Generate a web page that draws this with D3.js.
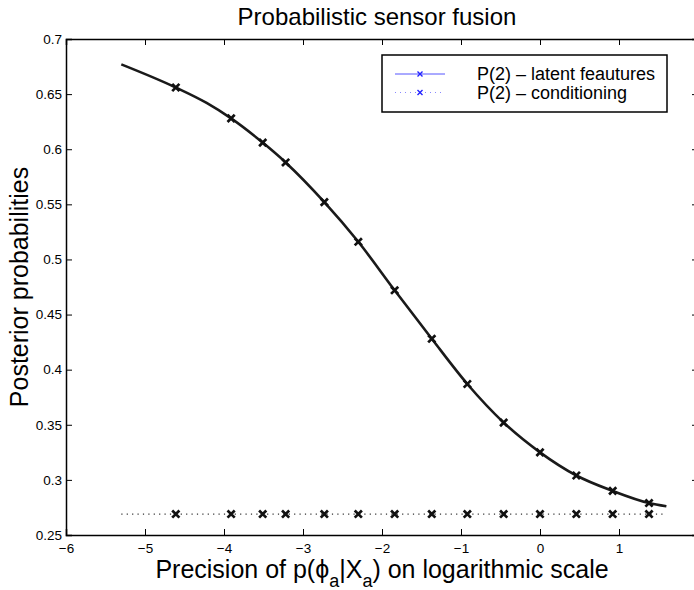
<!DOCTYPE html>
<html>
<head>
<meta charset="utf-8">
<script src="https://cdnjs.cloudflare.com/ajax/libs/d3/7.8.5/d3.min.js"></script>
<style>
  body { margin: 0; background: #fff; }
  svg { display: block; font-family: "Liberation Sans", Arial, Helvetica, sans-serif; }
</style>
</head>
<body>
<div id="chart"></div>
<script>
// x positions of the markers (log precision)
var markerX = [-4.61, -3.91, -3.51, -3.22, -2.73, -2.30, -1.84, -1.37, -0.92, -0.46, 0, 0.46, 0.92, 1.38];
// P(2) latent features at the markers
var latentY = [0.656, 0.628, 0.606, 0.588, 0.552, 0.516, 0.472, 0.428, 0.387, 0.352, 0.325, 0.304, 0.290, 0.279];
// P(2) conditioning at the markers
var condY = [0.269, 0.269, 0.269, 0.269, 0.269, 0.269, 0.269, 0.269, 0.269, 0.269, 0.269, 0.269, 0.269, 0.269];
// full solid curve (ends + markers + one bend point)
var curveX = [-5.30, -4.61, -4.22, -3.91, -3.51, -3.22, -2.73, -2.30, -1.84, -1.37, -0.92, -0.46, 0, 0.46, 0.92, 1.38, 1.60];
var curveY = [0.677, 0.656, 0.642, 0.628, 0.606, 0.588, 0.552, 0.516, 0.472, 0.428, 0.387, 0.352, 0.325, 0.304, 0.290, 0.279, 0.276];
// dotted conditioning line ends
var condLineX = [-5.30, 1.60];
var condLineY = [0.269, 0.269];

var xTicks = [-6, -5, -4, -3, -2, -1, 0, 1, 2];
var yTicks = [0.25, 0.3, 0.35, 0.4, 0.45, 0.5, 0.55, 0.6, 0.65, 0.7];
var legendLabels = ["P(2) \u2013 latent feautures", "P(2) \u2013 conditioning"];

function init() {
    var w = 694, h = 590;
    var mLeft = 66, mRight = 698, mTop = 39, mBottom = 535;

    var svg = d3.select("#chart").append("svg")
        .attr("width", w)
        .attr("height", h);

    var x = d3.scaleLinear().domain([-6, 2]).range([mLeft, mRight]);
    var y = d3.scaleLinear().domain([0.25, 0.7]).range([mBottom, mTop]);

    // axes, ticks inward like matlab
    function fmt(d) { return String(d).replace("-", "\u2212"); }

    svg.append("g")
        .attr("transform", "translate(0," + mBottom + ")")
        .call(d3.axisBottom(x).tickValues(xTicks).tickSize(-6).tickPadding(8).tickFormat(fmt));
    svg.append("g")
        .attr("transform", "translate(0," + mTop + ")")
        .call(d3.axisTop(x).tickValues(xTicks).tickSize(-6).tickFormat(""));
    svg.append("g")
        .attr("transform", "translate(" + mLeft + ",0)")
        .call(d3.axisLeft(y).tickValues(yTicks).tickSize(-6).tickPadding(4).tickFormat(function (d) { return String(+d.toFixed(2)); }));
    svg.append("g")
        .attr("transform", "translate(" + mRight + ",0)")
        .call(d3.axisRight(y).tickValues(yTicks).tickSize(-6).tickFormat(""));

    svg.selectAll(".domain").attr("stroke", "#000").attr("stroke-width", 1.5);
    svg.selectAll(".tick line").attr("stroke", "#000").attr("stroke-width", 1);
    svg.selectAll(".tick text").attr("fill", "#000").style("font-size", "13.5px");

    // solid curve
    var line = d3.line()
        .x(function (d) { return x(d[0]); })
        .y(function (d) { return y(d[1]); })
        .curve(d3.curveMonotoneX);

    svg.append("path")
        .datum(d3.zip(curveX, curveY))
        .attr("d", line)
        .attr("fill", "none")
        .attr("stroke", "#1a1a1a")
        .attr("stroke-width", 2.6);

    // dotted line
    svg.append("path")
        .datum(d3.zip(condLineX, condLineY))
        .attr("d", d3.line().x(function (d) { return x(d[0]); }).y(function (d) { return y(d[1]); }))
        .attr("fill", "none")
        .attr("stroke", "#333")
        .attr("stroke-width", 1.2)
        .attr("stroke-dasharray", "1.2,4.2");

    // x markers
    function cross(g, cx, cy, s, col, sw) {
        g.append("path")
            .attr("d", "M" + (cx - s) + "," + (cy - s) + "L" + (cx + s) + "," + (cy + s) +
                "M" + (cx - s) + "," + (cy + s) + "L" + (cx + s) + "," + (cy - s))
            .attr("stroke", col)
            .attr("stroke-width", sw)
            .attr("fill", "none");
    }

    var marks = svg.append("g");
    markerX.forEach(function (d, i) {
        cross(marks, x(d), y(latentY[i]), 3.6, "#111", 2.7);
        cross(marks, x(d), y(condY[i]), 3.6, "#111", 2.7);
    });

    // legend
    var lg = svg.append("g");
    lg.append("rect")
        .attr("x", 382).attr("y", 55)
        .attr("width", 285).attr("height", 57)
        .attr("fill", "#fff")
        .attr("stroke", "#000")
        .attr("stroke-width", 1.5);

    var rows = [74, 92.5];
    legendLabels.forEach(function (t, i) {
        var ly = rows[i];
        var l = lg.append("line")
            .attr("x1", 395).attr("x2", 445)
            .attr("y1", ly).attr("y2", ly)
            .attr("stroke", "#5555ff")
            .attr("stroke-width", 1);
        if (i == 1) l.attr("stroke-dasharray", "1,4").attr("stroke", "#8888ff");
        cross(lg, 420, ly, 2.5, "#2222ff", 1.4);
        lg.append("text")
            .attr("x", 477).attr("y", ly + 6)
            .style("font-size", "18px")
            .attr("fill", "#000")
            .text(t);
    });

    // title
    svg.append("text")
        .attr("x", 377).attr("y", 25)
        .attr("text-anchor", "middle")
        .style("font-size", "24px")
        .text("Probabilistic sensor fusion");

    // y label
    svg.append("text")
        .attr("transform", "translate(28," + ((mTop + mBottom) / 2) + ") rotate(-90)")
        .attr("text-anchor", "middle")
        .style("font-size", "25px")
        .text("Posterior probabilities");

    // x label with subscripts
    var xl = svg.append("text")
        .attr("x", 382).attr("y", 578)
        .attr("text-anchor", "middle")
        .style("font-size", "25px");
    xl.append("tspan").text("Precision of p(\u03d5");
    xl.append("tspan").attr("dy", 9).style("font-size", "18px").text("a");
    xl.append("tspan").attr("dy", -9).text("|X");
    xl.append("tspan").attr("dy", 9).style("font-size", "18px").text("a");
    xl.append("tspan").attr("dy", -9).text(") on logarithmic scale");
}
window.onload = init;
</script>
</body>
</html>
